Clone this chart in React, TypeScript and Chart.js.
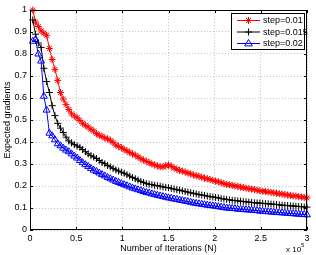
import React, { useEffect, useRef } from "react";
import { Chart, registerables } from "chart.js";
Chart.register(...registerables);

const iterations = [
  3000, 6000, 9000, 12000, 15000, 18000, 21000, 24000, 27000, 30000,
  33000, 36000, 39000, 42000, 45000, 48000, 51000, 54000, 57000, 60000,
  63000, 66000, 69000, 72000, 75000, 78000, 81000, 84000, 87000, 90000,
  93000, 96000, 99000, 102000, 105000, 108000, 111000, 114000, 117000, 120000,
  123000, 126000, 129000, 132000, 135000, 138000, 141000, 144000, 147000, 150000,
  153000, 156000, 159000, 162000, 165000, 168000, 171000, 174000, 177000, 180000,
  183000, 186000, 189000, 192000, 195000, 198000, 201000, 204000, 207000, 210000,
  213000, 216000, 219000, 222000, 225000, 228000, 231000, 234000, 237000, 240000,
  243000, 246000, 249000, 252000, 255000, 258000, 261000, 264000, 267000, 270000,
  273000, 276000, 279000, 282000, 285000, 288000, 291000, 294000, 297000, 300000,
];

const step001 = [
  1.0, 0.945, 0.925, 0.905, 0.895, 0.885, 0.825, 0.775, 0.73, 0.68,
  0.625, 0.595, 0.57, 0.548, 0.528, 0.518, 0.51, 0.498, 0.485, 0.476,
  0.468, 0.458, 0.45, 0.438, 0.43, 0.426, 0.418, 0.414, 0.408, 0.398,
  0.386, 0.38, 0.374, 0.366, 0.36, 0.352, 0.346, 0.34, 0.332, 0.324,
  0.318, 0.312, 0.306, 0.3, 0.296, 0.291, 0.288, 0.287, 0.292, 0.296,
  0.29, 0.282, 0.276, 0.271, 0.268, 0.263, 0.259, 0.255, 0.25, 0.247,
  0.244, 0.24, 0.236, 0.233, 0.229, 0.226, 0.222, 0.219, 0.215, 0.211,
  0.207, 0.205, 0.203, 0.2, 0.198, 0.195, 0.193, 0.19, 0.188, 0.186,
  0.184, 0.181, 0.178, 0.176, 0.175, 0.173, 0.171, 0.169, 0.167, 0.165,
  0.163, 0.161, 0.159, 0.157, 0.155, 0.154, 0.152, 0.15, 0.148, 0.146,
];

const step0015 = [
  0.955, 0.89, 0.85, 0.83, 0.735, 0.675, 0.625, 0.565, 0.52, 0.485,
  0.463, 0.443, 0.422, 0.405, 0.396, 0.388, 0.382, 0.376, 0.366, 0.356,
  0.346, 0.338, 0.332, 0.325, 0.316, 0.307, 0.301, 0.293, 0.287, 0.28,
  0.273, 0.268, 0.263, 0.258, 0.251, 0.245, 0.239, 0.233, 0.227, 0.221,
  0.216, 0.211, 0.208, 0.206, 0.203, 0.201, 0.199, 0.196, 0.194, 0.192,
  0.189, 0.186, 0.183, 0.181, 0.178, 0.175, 0.172, 0.169, 0.167, 0.164,
  0.161, 0.159, 0.157, 0.154, 0.152, 0.15, 0.148, 0.146, 0.143, 0.141,
  0.139, 0.137, 0.135, 0.134, 0.132, 0.131, 0.129, 0.128, 0.127, 0.125,
  0.124, 0.123, 0.122, 0.121, 0.12, 0.119, 0.118, 0.117, 0.116, 0.114,
  0.113, 0.112, 0.111, 0.11, 0.109, 0.108, 0.107, 0.106, 0.105, 0.104,
];

const step002 = [
  0.858, 0.866, 0.8, 0.768, 0.608, 0.545, 0.44, 0.428, 0.41, 0.392,
  0.383, 0.372, 0.363, 0.356, 0.346, 0.336, 0.327, 0.316, 0.306, 0.297,
  0.289, 0.28, 0.272, 0.266, 0.259, 0.252, 0.246, 0.239, 0.233, 0.227,
  0.221, 0.216, 0.211, 0.206, 0.201, 0.196, 0.191, 0.187, 0.183, 0.179,
  0.175, 0.171, 0.168, 0.164, 0.161, 0.158, 0.155, 0.152, 0.149, 0.146,
  0.144, 0.141, 0.139, 0.136, 0.134, 0.131, 0.129, 0.126, 0.123, 0.121,
  0.119, 0.117, 0.115, 0.113, 0.111, 0.11, 0.108, 0.106, 0.104, 0.102,
  0.1, 0.099, 0.098, 0.097, 0.095, 0.094, 0.093, 0.092, 0.091, 0.09,
  0.089, 0.088, 0.086, 0.085, 0.084, 0.083, 0.082, 0.081, 0.08, 0.079,
  0.078, 0.077, 0.076, 0.075, 0.074, 0.073, 0.072, 0.071, 0.07, 0.069,
];

const seriesLabels = ["step=0.01", "step=0.015", "step=0.02"];
const seriesColors = ["#ff0000", "#000000", "#0000ff"];
const seriesMarkers = ["star", "cross", "triangle"];
const xTicks = [0, 50000, 100000, 150000, 200000, 250000, 300000];
const yTicks = [0, 0.1, 0.2, 0.3, 0.4, 0.5, 0.6, 0.7, 0.8, 0.9, 1];
const xTitle = "Number of Iterations (N)";
const yTitle = "Expected gradients";

const FONT = "'Liberation Sans', Arial, Helvetica, sans-serif";

function drawMarker(ctx: CanvasRenderingContext2D, kind: string, x: number, y: number, r: number) {
  ctx.beginPath();
  if (kind === "star") {
    ctx.moveTo(x - r, y); ctx.lineTo(x + r, y);
    ctx.moveTo(x, y - r); ctx.lineTo(x, y + r);
    const d = r * Math.SQRT1_2;
    ctx.moveTo(x - d, y - d); ctx.lineTo(x + d, y + d);
    ctx.moveTo(x - d, y + d); ctx.lineTo(x + d, y - d);
    ctx.stroke();
  } else if (kind === "cross") {
    ctx.moveTo(x - r, y); ctx.lineTo(x + r, y);
    ctx.moveTo(x, y - r); ctx.lineTo(x, y + r);
    ctx.stroke();
  } else {
    ctx.moveTo(x, y - r);
    ctx.lineTo(x + r * 0.95, y + r * 0.6);
    ctx.lineTo(x - r * 0.95, y + r * 0.6);
    ctx.closePath();
    ctx.stroke();
  }
}

const matlabPlugin = {
  id: "matlabDecor",
  afterDraw(chart: any) {
    const ctx = chart.ctx as CanvasRenderingContext2D;
    const { left, right, top, bottom } = chart.chartArea;
    const xs = chart.scales.x;
    const ys = chart.scales.y;
    ctx.save();
    ctx.strokeStyle = "#000";
    ctx.lineWidth = 1;
    ctx.strokeRect(left + 0.5, top + 0.5, right - left - 1, bottom - top - 1);
    const tl = 3;
    ctx.beginPath();
    xTicks.forEach((v) => {
      const px = Math.round(xs.getPixelForValue(v)) + 0.5;
      ctx.moveTo(px, bottom); ctx.lineTo(px, bottom - tl);
      ctx.moveTo(px, top); ctx.lineTo(px, top + tl);
    });
    yTicks.forEach((v) => {
      const py = Math.round(ys.getPixelForValue(v)) + 0.5;
      ctx.moveTo(left, py); ctx.lineTo(left + tl, py);
      ctx.moveTo(right, py); ctx.lineTo(right - tl, py);
    });
    ctx.stroke();

    // exponent label
    ctx.fillStyle = "#000";
    ctx.textBaseline = "alphabetic";
    ctx.textAlign = "left";
    ctx.font = `8px ${FONT}`;
    ctx.fillText("x 10", 286, 252);
    ctx.font = `6px ${FONT}`;
    ctx.fillText("5", 301, 247);

    // legend
    const bx = 231, by = 13, bw = 73, bh = 36;
    ctx.fillStyle = "#fff";
    ctx.fillRect(bx, by, bw, bh);
    ctx.strokeStyle = "#000";
    ctx.strokeRect(bx + 0.5, by + 0.5, bw, bh);
    const rows = [20.5, 32, 43.5];
    chart.data.datasets.forEach((ds: any, i: number) => {
      const y = rows[i];
      ctx.strokeStyle = ds.borderColor;
      ctx.lineWidth = 1;
      ctx.beginPath();
      ctx.moveTo(237, y); ctx.lineTo(260, y);
      ctx.stroke();
      drawMarker(ctx, seriesMarkers[i], 248.5, y, seriesMarkers[i] === "triangle" ? 4 : 3.5);
      ctx.fillStyle = "#000";
      ctx.font = `9px ${FONT}`;
      ctx.textBaseline = "middle";
      ctx.fillText(ds.label, 263, y + 0.5);
    });
    ctx.restore();
  },
};

export default function App() {
  const ref = useRef<HTMLCanvasElement | null>(null);
  useEffect(() => {
    if (!ref.current) return;
    const seriesValues = [step001, step0015, step002];
    const chart = new Chart(ref.current, {
      type: "line",
      data: {
        datasets: seriesValues.map((vals, i) => ({
          label: seriesLabels[i],
          data: vals.map((v, j) => ({ x: iterations[j], y: v })),
          borderColor: seriesColors[i],
          backgroundColor: "rgba(0,0,0,0)",
          borderWidth: 1,
          pointStyle: seriesMarkers[i] as any,
          pointRadius: seriesMarkers[i] === "triangle" ? 4 : 3.5,
          pointBorderWidth: 1,
          pointBorderColor: seriesColors[i],
          pointBackgroundColor: "rgba(0,0,0,0)",
          tension: 0,
          fill: false,
          clip: false as any,
          order: 3 - i,
        })),
      },
      options: {
        animation: false,
        responsive: false,
        maintainAspectRatio: false,
        layout: { padding: { top: 10, right: 9, left: 0, bottom: 0 } },
        plugins: { legend: { display: false }, tooltip: { enabled: false } },
        scales: {
          x: {
            type: "linear",
            min: 0,
            max: 300000,
            afterBuildTicks: (s: any) => { s.ticks = xTicks.map((v) => ({ value: v })); },
            afterFit: (s: any) => { s.height = 25; },
            ticks: {
              callback: (v: any) => String(Number(v) / 100000),
              color: "#000",
              font: { family: FONT, size: 9 },
              padding: 3,
              maxRotation: 0,
              autoSkip: false,
            },
            grid: { color: "#c4c4c4", drawTicks: false, lineWidth: 1 },
            border: { display: false, dash: [1, 2] },
            title: {
              display: true,
              text: xTitle,
              color: "#000",
              font: { family: FONT, size: 9 },
              padding: { top: 0, bottom: 1 },
            },
          },
          y: {
            type: "linear",
            min: 0,
            max: 1,
            afterBuildTicks: (s: any) => { s.ticks = yTicks.map((v) => ({ value: v })); },
            afterFit: (s: any) => { s.width = 30; },
            ticks: {
              callback: (v: any) => String(Math.round(Number(v) * 10) / 10),
              color: "#000",
              font: { family: FONT, size: 9 },
              padding: 3,
              autoSkip: false,
            },
            grid: { color: "#c4c4c4", drawTicks: false, lineWidth: 1 },
            border: { display: false, dash: [1, 2] },
            title: {
              display: true,
              text: yTitle,
              color: "#000",
              font: { family: FONT, size: 9 },
              padding: { top: 2, bottom: 0 },
            },
          },
        },
      },
      plugins: [matlabPlugin],
    });
    return () => chart.destroy();
  }, []);
  return (
    <div style={{ position: "fixed", left: 0, top: 0, width: 316, height: 255, background: "#fff" }}>
      <canvas ref={ref} width={316} height={255} style={{ width: 316, height: 255, display: "block" }} />
    </div>
  );
}
